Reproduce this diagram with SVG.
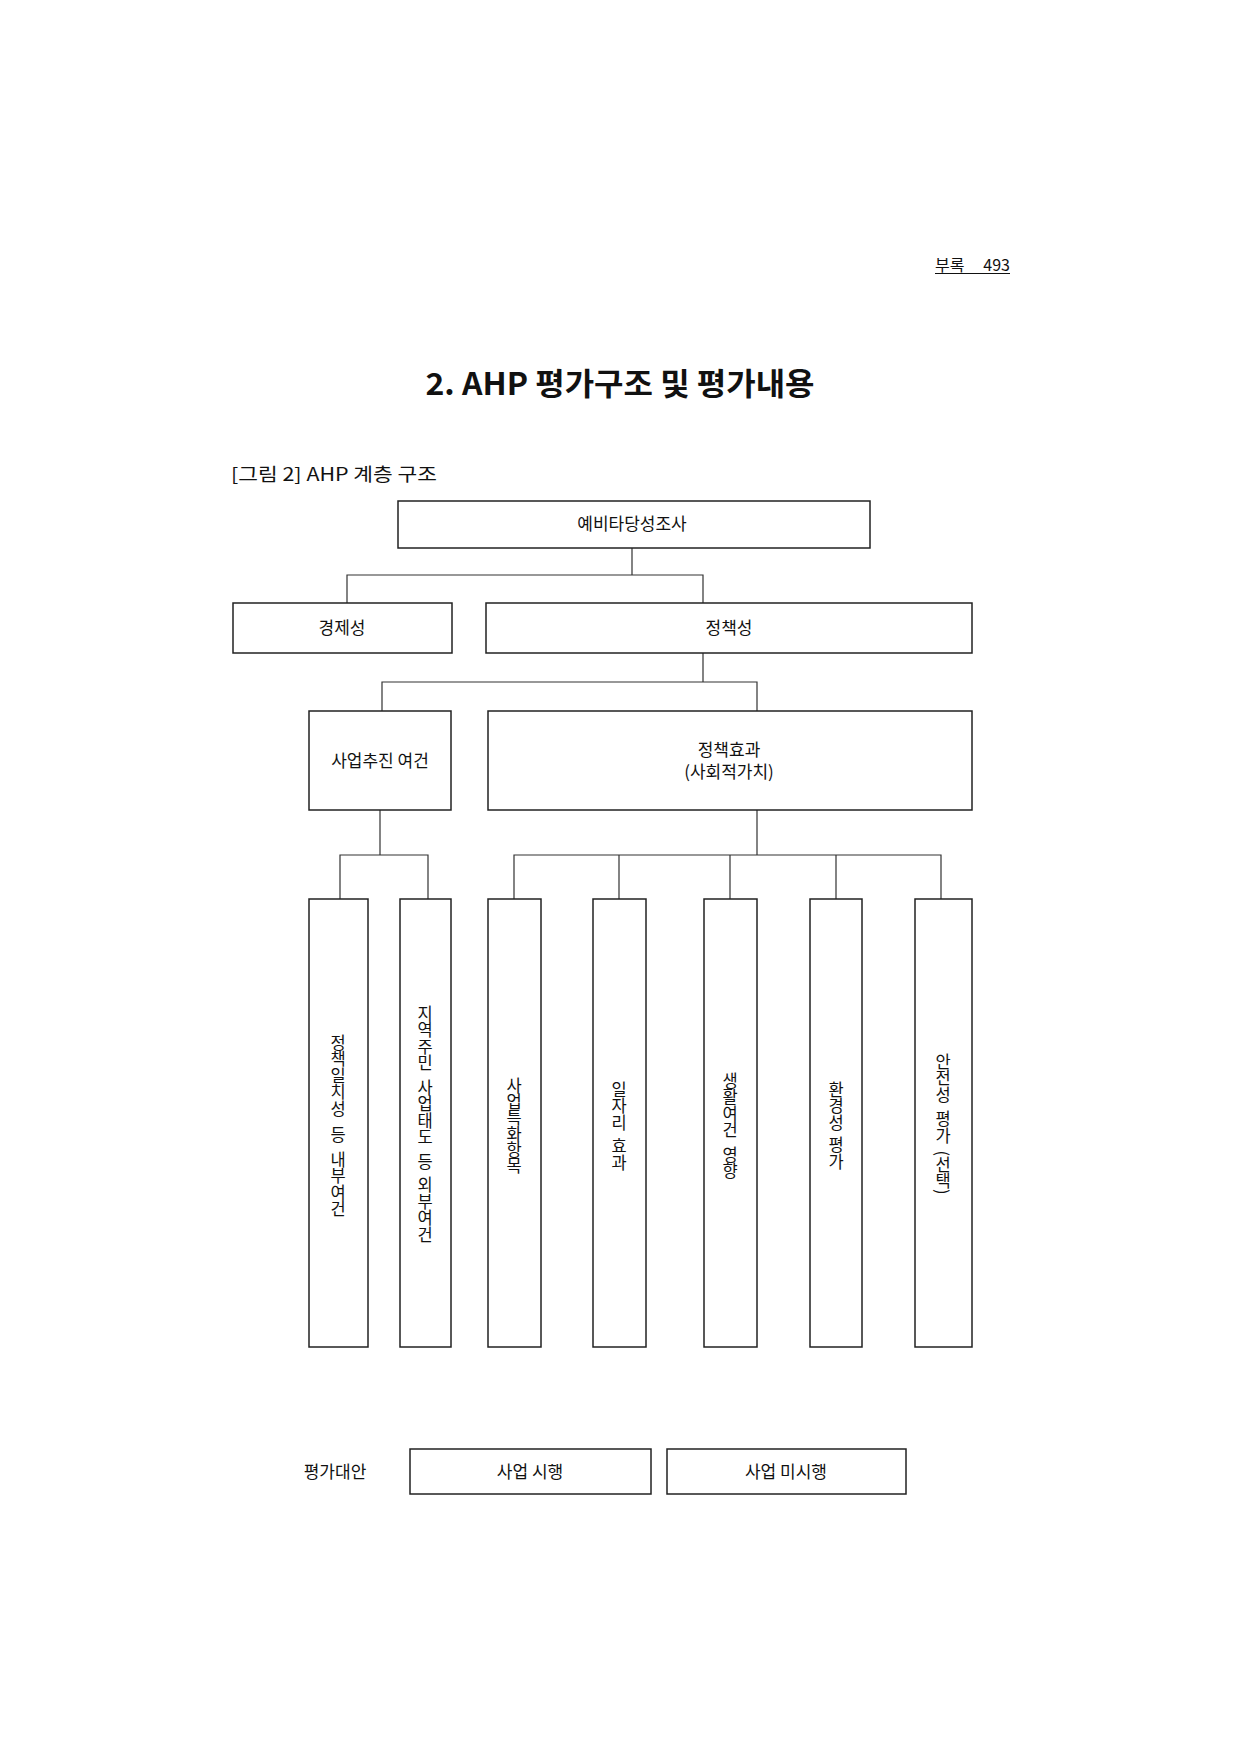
<svg xmlns="http://www.w3.org/2000/svg" width="1240" height="1753" viewBox="0 0 1240 1753">
<style>
  text { font-family: "Noto Sans CJK KR", "Liberation Sans", sans-serif; fill: #111; }
  .box { fill: #fff; stroke: #222; stroke-width: 1.5; }
  .lbl { font-size: 17px; text-anchor: middle; dominant-baseline: central; }
  .vt { font-size: 16.5px; writing-mode: vertical-rl; text-orientation: upright; text-anchor: start; }
  .vm { text-orientation: mixed; }
  .conn { fill: none; stroke: #333; stroke-width: 1.2; }
</style>
<rect width="1240" height="1753" fill="#fff"/>
<g id="header">
  <text x="935" y="271" font-size="16">부록</text>
  <text x="1010" y="271" font-size="16" text-anchor="end">493</text>
  <line x1="935" y1="273.5" x2="1010" y2="273.5" stroke="#111" stroke-width="1"/>
  <text x="620" y="395" font-size="31" font-weight="bold" text-anchor="middle" textLength="389" lengthAdjust="spacingAndGlyphs">2. AHP 평가구조 및 평가내용</text>
  <text x="231" y="481" font-size="18" textLength="206" lengthAdjust="spacingAndGlyphs">[그림 2] AHP 계층 구조</text>
</g>
<g id="connectors">
  <path class="conn" d="M632 548 V575 M347 603 V575 H703 V603"/>
  <path class="conn" d="M703 653 V682 M382 711 V682 H757 V711"/>
  <path class="conn" d="M380 810 V855 M340 899 V855 H428 V899"/>
  <path class="conn" d="M757 810 V855 M514 899 V855 H941 V899 M619 855 V899 M730 855 V899 M836 855 V899"/>
</g>
<g id="n-root"><rect class="box" x="398" y="501" width="472" height="47"/><text class="lbl" x="632" y="522">예비타당성조사</text></g>
<g id="n-econ"><rect class="box" x="233" y="603" width="219" height="50"/><text class="lbl" x="342" y="626">경제성</text></g>
<g id="n-policy"><rect class="box" x="486" y="603" width="486" height="50"/><text class="lbl" x="729" y="626">정책성</text></g>
<g id="n-cond"><rect class="box" x="309" y="711" width="142" height="99"/><text class="lbl" x="380" y="759">사업추진 여건</text></g>
<g id="n-effect"><rect class="box" x="488" y="711" width="484" height="99"/><text class="lbl" x="729" y="748">정책효과</text><text class="lbl" x="729" y="770">(사회적가치)</text></g>
<g id="n-c1"><rect class="box" x="309" y="899" width="59" height="448"/><text class="vt" x="338"><tspan y="1034">정책일치성</tspan><tspan y="1126">등</tspan><tspan y="1151">내부여건</tspan></text></g>
<g id="n-c2"><rect class="box" x="400" y="899" width="51" height="448"/><text class="vt" x="425"><tspan y="1005">지역주민</tspan><tspan y="1079">사업태도</tspan><tspan y="1153">등</tspan><tspan y="1176">외부여건</tspan></text></g>
<g id="n-e1"><rect class="box" x="488" y="899" width="53" height="448"/><text class="vt" x="514" y="1077" letter-spacing="-0.5">사업특화항목</text></g>
<g id="n-e2"><rect class="box" x="593" y="899" width="53" height="448"/><text class="vt" x="619"><tspan y="1081">일자리</tspan><tspan y="1137">효과</tspan></text></g>
<g id="n-e3"><rect class="box" x="704" y="899" width="53" height="448"/><text class="vt" x="730"><tspan y="1072">생활여건</tspan><tspan y="1146">영향</tspan></text></g>
<g id="n-e4"><rect class="box" x="810" y="899" width="52" height="448"/><text class="vt" x="836"><tspan y="1081">환경성</tspan><tspan y="1136">평가</tspan></text></g>
<g id="n-e5"><rect class="box" x="915" y="899" width="57" height="448"/><text class="vt vm" x="943"><tspan y="1053">안전성</tspan><tspan y="1110">평가</tspan><tspan y="1150">(선택)</tspan></text></g>
<g id="alternatives">
  <text class="lbl" x="335" y="1470">평가대안</text>
  <g id="n-alt1"><rect class="box" x="410" y="1449" width="241" height="45"/><text class="lbl" x="530" y="1470">사업 시행</text></g>
  <g id="n-alt2"><rect class="box" x="667" y="1449" width="239" height="45"/><text class="lbl" x="786" y="1470">사업 미시행</text></g>
</g>
</svg>
